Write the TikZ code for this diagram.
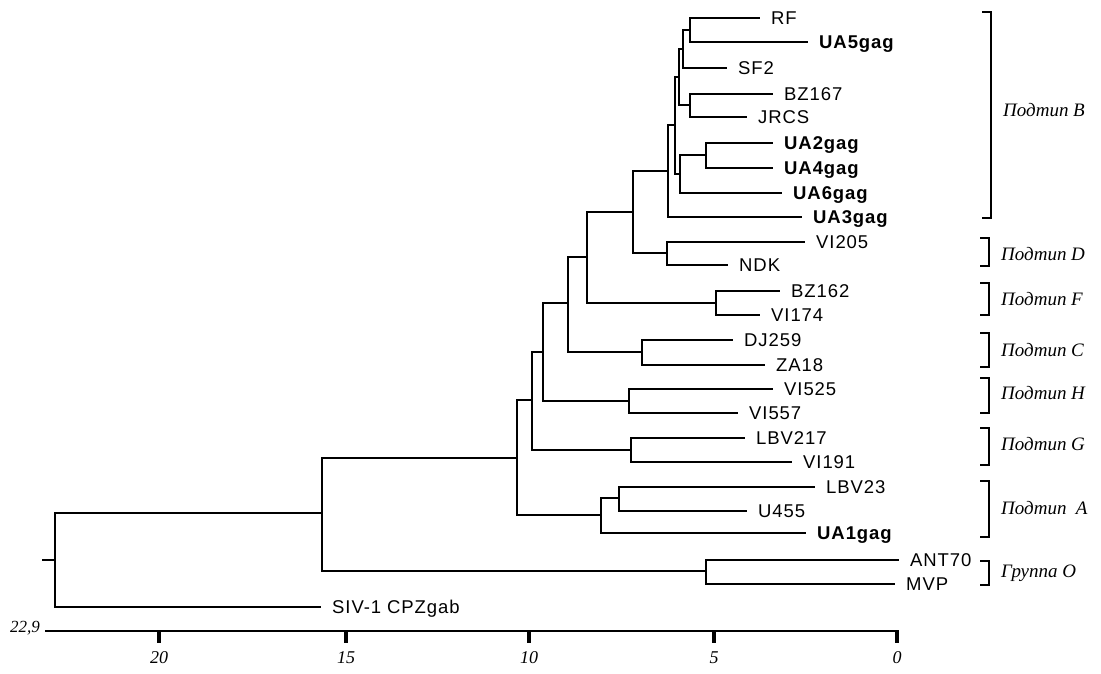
\documentclass[tikz,border=0pt]{standalone}
\usepackage{fontspec}
\setmainfont{Liberation Sans}[LetterSpace=5]
\newfontfamily\tnr{Liberation Serif}
\begin{document}
\begin{tikzpicture}[x=1pt,y=-1pt]
\tikzset{
  br/.style={line width=2.8pt},
  axl/.style={line width=2.5pt},
  lf/.style={anchor=base west, inner sep=0pt, font=\fontsize{18.5}{20}\selectfont},
  lfb/.style={lf, font=\fontsize{18.5}{20}\selectfont\bfseries},
  grp/.style={anchor=west, inner sep=0pt, font=\tnr\itshape\fontsize{19}{21}\selectfont},
  axn/.style={inner sep=0pt, font=\tnr\itshape\fontsize{18}{20}\selectfont},
}
\useasboundingbox (0,0) rectangle (1101,673);
\newcommand\leaf[5]{\coordinate (e#1) at (#2,#3);
  \node[#5] (#1) at (#2+11,#3+6.5) {#4};}
% ---- leaves ----
\leaf{RF}{760}{18}{RF}{lf}
\leaf{UAfive}{808}{42}{UA5gag}{lfb}
\leaf{SFtwo}{727}{68}{SF2}{lf}
\leaf{BZa}{773}{94}{BZ167}{lf}
\leaf{JRCS}{747}{117}{JRCS}{lf}
\leaf{UAtwo}{773}{143}{UA2gag}{lfb}
\leaf{UAfour}{773}{168}{UA4gag}{lfb}
\leaf{UAsix}{782}{193}{UA6gag}{lfb}
\leaf{UAthree}{802}{217}{UA3gag}{lfb}
\leaf{VIa}{805}{242}{VI205}{lf}
\leaf{NDK}{728}{265}{NDK}{lf}
\leaf{BZb}{780}{291}{BZ162}{lf}
\leaf{VIb}{760}{315}{VI174}{lf}
\leaf{DJ}{733}{340}{DJ259}{lf}
\leaf{ZA}{765}{365}{ZA18}{lf}
\leaf{VIc}{773}{389}{VI525}{lf}
\leaf{VId}{738}{413}{VI557}{lf}
\leaf{LBVa}{745}{438}{LBV217}{lf}
\leaf{VIe}{792}{462}{VI191}{lf}
\leaf{LBVb}{815}{487}{LBV23}{lf}
\leaf{U}{747}{511}{U455}{lf}
\leaf{UAone}{806}{533}{UA1gag}{lfb}
\leaf{ANT}{899}{560}{ANT70}{lf}
\leaf{MVP}{895}{584}{MVP}{lf}
\leaf{SIV}{321}{607}{SIV-1 CPZgab}{lf}
% ---- internal nodes ----
\coordinate (n1) at (690,30);
\coordinate (n2) at (683,49);
\coordinate (n3) at (690,105);
\coordinate (n4) at (679,77);
\coordinate (n5) at (706,155);
\coordinate (n6) at (680,174);
\coordinate (n7) at (675,125);
\coordinate (nB) at (668,171);
\coordinate (nD) at (667,253);
\coordinate (nBD) at (633,212);
\coordinate (nF) at (716,303);
\coordinate (nBDF) at (587,257);
\coordinate (nC) at (642,352);
\coordinate (nBDFC) at (568,303);
\coordinate (nH) at (629,401);
\coordinate (nBDFCH) at (543,352);
\coordinate (nG) at (631,450);
\coordinate (nBDFCHG) at (532,400);
\coordinate (nAa) at (619,498);
\coordinate (nA) at (601,515);
\coordinate (nM) at (517,458);
\coordinate (nO) at (706,571);
\coordinate (nXV) at (322,513);
\coordinate (root) at (55,560);
\coordinate (stub) at (42,560);
% ---- branches ----
\foreach \p/\c in {n1/eRF, n1/eUAfive, n2/n1, n2/eSFtwo, n3/eBZa, n3/eJRCS,
  n4/n2, n4/n3, n5/eUAtwo, n5/eUAfour, n6/n5, n6/eUAsix, n7/n4, n7/n6,
  nB/n7, nB/eUAthree, nD/eVIa, nD/eNDK, nBD/nB, nBD/nD, nF/eBZb, nF/eVIb,
  nBDF/nBD, nBDF/nF, nC/eDJ, nC/eZA, nBDFC/nBDF, nBDFC/nC, nH/eVIc, nH/eVId,
  nBDFCH/nBDFC, nBDFCH/nH, nG/eLBVa, nG/eVIe, nBDFCHG/nBDFCH, nBDFCHG/nG,
  nAa/eLBVb, nAa/eU, nA/nAa, nA/eUAone, nM/nBDFCHG, nM/nA,
  nO/eANT, nO/eMVP, nXV/nM, nXV/nO, root/nXV, root/eSIV}
  \draw[br] (\p) |- (\c);
\draw[br] (stub) -- (root);
% ---- brackets ----
\newcommand\brk[6]{\coordinate (#1t) at (#2,#3); \coordinate (#1b) at (#2,#4);
  \draw[br] ([xshift=-9pt]#1t) -- (#1t) -- (#1b) -- ([xshift=-9pt]#1b);
  \node[grp] (#1l) at (#2+12,#6) {#5};}
\brk{gB}{991}{12}{218}{Подтип B}{110}
\brk{gD}{989}{238}{266}{Подтип D}{254}
\brk{gF}{989}{283}{315}{Подтип F}{299}
\brk{gC}{989}{333}{367}{Подтип C}{350}
\brk{gH}{989}{378}{413}{Подтип H}{393}
\brk{gG}{989}{428}{465}{Подтип G}{444}
\brk{gA}{989}{481}{537}{Подтип\ \ A}{508}
\brk{gO}{989}{561}{585}{Группа O}{573}
% ---- axis ----
\coordinate (ax0) at (897,631);
\coordinate (axS) at (45,631);
\draw[axl] (axS) -- (ax0);
\foreach \xx/\t in {159/20, 346/15, 529/10, 714/5, 897/0} {
  \draw[line width=3.2pt] (\xx,630) -- (\xx,643);
  \node[axn] at (\xx,658) {\t};
}
\node[axn, anchor=east] (lab229) at (40,628) {\fontsize{17}{19}\selectfont 22,9};
\end{tikzpicture}
\end{document}
